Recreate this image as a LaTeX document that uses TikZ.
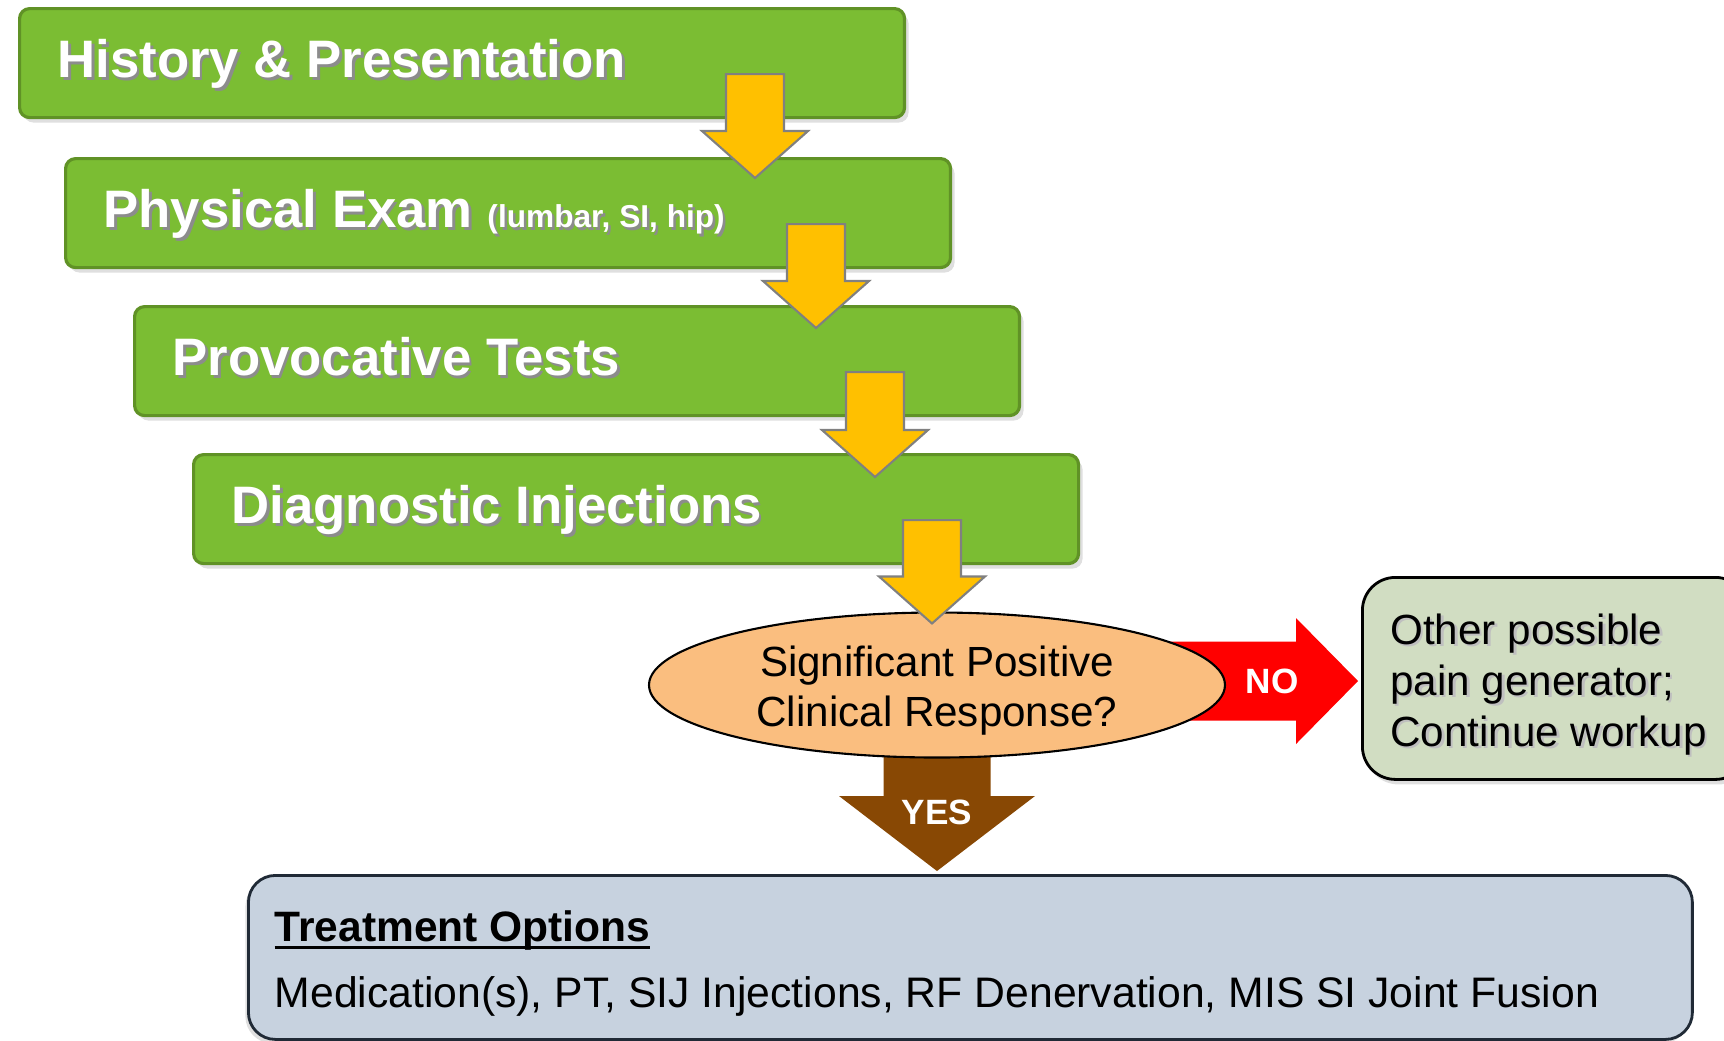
\documentclass[tikz,border=0pt]{standalone}
\usepackage{fontspec}
\setmainfont{Liberation Sans}
\usetikzlibrary{shapes.geometric,shadows,calc,backgrounds}

\definecolor{stepgreen}{RGB}{123,189,51}
\definecolor{stepedge}{RGB}{96,146,38}
\definecolor{arrowgold}{RGB}{255,192,0}
\definecolor{peach}{RGB}{250,190,127}
\definecolor{nored}{RGB}{255,0,0}
\definecolor{yesbrown}{RGB}{136,72,4}
\definecolor{sage}{RGB}{209,221,194}
\definecolor{steel}{RGB}{199,210,223}
\definecolor{steeledge}{RGB}{32,42,54}

% text with a soft shadow behind it
\newcommand{\castshadow}[2][black!45]{\leavevmode\rlap{\hspace{0.25mm}\raisebox{-0.25mm}{\color{#1}#2}}#2}
% heavy underline
\newcommand{\heavyul}[1]{\setbox0\hbox{#1}\rlap{\rule[-0.75mm]{\wd0}{0.3mm}}\box0}

% downward block arrow: style, tail, tip, shaft half width, head half width, head length
\newcommand{\blockdown}[6]{%
  \path[#1] let \p1=#2, \p2=#3 in
    (\x2-#4,\y1) -- (\x2+#4,\y1) -- (\x2+#4,\y2+#6) -- (\x2+#5,\y2+#6)
    -- (\x2,\y2) -- (\x2-#5,\y2+#6) -- (\x2-#4,\y2+#6) -- cycle;}
% rightward block arrow, same arguments
\newcommand{\blockright}[6]{%
  \path[#1] let \p1=#2, \p2=#3 in
    (\x1,\y2+#4) -- (\x2-#6,\y2+#4) -- (\x2-#6,\y2+#5) -- (\x2,\y2)
    -- (\x2-#6,\y2-#5) -- (\x2-#6,\y2-#4) -- (\x1,\y2-#4) -- cycle;}

\tikzset{
  stepbox/.style={draw=stepedge, line width=0.9pt, fill=stepgreen, rounded corners=1mm,
    anchor=north west, minimum height=10.9mm, inner xsep=3.8mm, text width=80.9mm,
    align=flush left, text height=2.9mm, text depth=0mm, text=white,
    font=\fontsize{15}{18}\selectfont\bfseries,
    drop shadow={shadow xshift=0.4mm, shadow yshift=-0.5mm, opacity=0.25}},
  decision/.style={ellipse, draw=black, line width=0.6pt, fill=peach,
    minimum width=57.6mm, minimum height=14.5mm, inner sep=0pt},
  outbox/.style={draw=black, line width=0.8pt, fill=sage, rounded corners=3.3mm,
    anchor=north west, minimum height=20.2mm, inner xsep=2.8mm, text width=33mm,
    align=flush left, font=\fontsize{12}{14.5}\selectfont,
    drop shadow={shadow xshift=0.3mm, shadow yshift=-0.5mm, opacity=0.25}},
  treatbox/.style={draw=steeledge, line width=0.8pt, fill=steel, rounded corners=2.7mm,
    anchor=north west, minimum width=144.4mm, minimum height=16.4mm,
    drop shadow={shadow xshift=-0.3mm, shadow yshift=-0.4mm, opacity=0.25}},
  yarrow/.style={fill=arrowgold, draw=black!50, line width=0.6pt},
  noarrow/.style={fill=nored},
  yesarrow/.style={fill=yesbrown},
  arrowlabel/.style={text=white, inner sep=0pt, font=\fontsize{10}{12}\selectfont\bfseries}
}

\begin{document}
\begin{tikzpicture}[x=0.1mm, y=-0.1mm]
  \useasboundingbox (0,0) rectangle (1724,1040);

  % Workup steps
  \node[stepbox] (hist) at (18,7) {\castshadow{History \& Presentation}};
  \node[stepbox] (exam) at (64,157) {\castshadow{Physical Exam} {\fontsize{9}{11}\selectfont\castshadow{(lumbar, SI, hip)}}};
  \node[stepbox] (prov) at (133,305) {\castshadow{Provocative Tests}};
  \node[stepbox] (diag) at (192,453) {\castshadow{Diagnostic Injections}};

  % Decision and outcomes
  \node[decision] (resp) at (937,685) {};
  \node[align=center, font=\fontsize{12}{14.2}\selectfont] (resptext) at (937,691)
    {Significant Positive\\Clinical Response?};
  \node[outbox] (other) at (1361,576) {\rule{0pt}{4.5mm}\castshadow[black!25]{Other possible}\\
    \castshadow[black!25]{pain generator;}\\ \castshadow[black!25]{Continue workup}};
  \node[treatbox] (treat) at (247,874) {};
  \node[anchor=base west, inner sep=0pt, font=\fontsize{12.1}{14}\selectfont\bfseries]
    (treattitle) at (274,941) {\heavyul{Treatment Options}};
  \node[anchor=base west, inner sep=0pt, font=\fontsize{12.15}{14}\selectfont]
    (treatlist) at (274,1007) {Medication(s), PT, SIJ Injections, RF Denervation, MIS SI Joint Fusion};

  % Yellow step arrows
  \foreach \a/\b/\c/\d in {hist/exam/755/2.1, exam/prov/816/2.3, prov/diag/875/2.4, diag/resp/932/1.2}
    \blockdown{yarrow}{($(\c,0 |- \a.south)+(0,4.5mm)$)}{($(\c,0 |- \b.north)+(0,-\d mm)$)}{2.9mm}{5.3mm}{4.7mm};

  % NO / YES arrows sit behind the ellipse
  \begin{pgfonlayer}{background}
    \blockright{noarrow}{(resp.center)}{($(other.west |- resp)+(-0.3mm,0.4mm)$)}{3.95mm}{6.3mm}{6.2mm};
    \blockdown{yesarrow}{(resp.center)}{($(resp |- treat.north)+(0,0.3mm)$)}{5.35mm}{9.8mm}{7.5mm};
  \end{pgfonlayer}
  \node[arrowlabel] (no) at (1272,681) {NO};
  \node[arrowlabel] (yes) at (937,812) {YES};
\end{tikzpicture}
\end{document}
